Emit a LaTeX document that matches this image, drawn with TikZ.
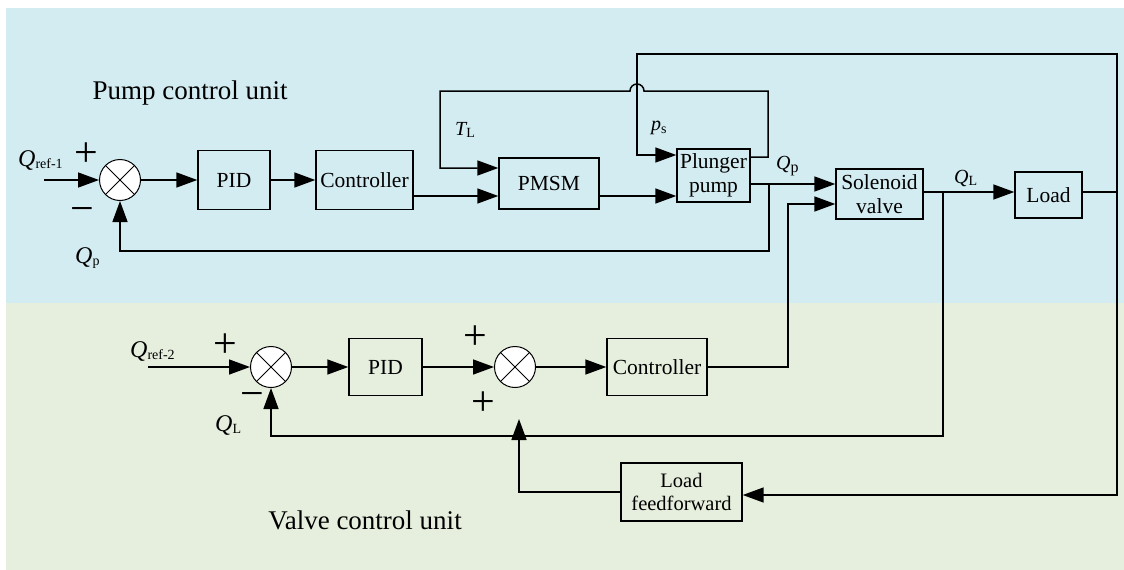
\documentclass[tikz,border=0pt]{standalone}
\usepackage{fontspec}
\setmainfont{Liberation Serif}
\usetikzlibrary{arrows.meta}
\definecolor{bgblue}{RGB}{211,236,241}
\definecolor{bggreen}{RGB}{230,239,221}
\newcommand{\symsub}[4]{{\fontsize{#3}{#3}\selectfont\itshape #1}\raisebox{-0.25em}{\fontsize{#4}{#4}\selectfont #2}}
\begin{document}
\begin{tikzpicture}[x=1pt,y=-1pt,
  box/.style={draw, line width=1.4pt, inner sep=0pt, align=center, font=\fontsize{21.5}{24}\selectfont},
  sumj/.style={circle, draw, line width=1pt, fill=white, minimum size=41pt, inner sep=0pt,
    path picture={\draw[line width=0.8pt] (path picture bounding box.north west) -- (path picture bounding box.south east)
      (path picture bounding box.north east) -- (path picture bounding box.south west);}},
  wire/.style={line width=1.5pt},
  arr/.style={wire, -{Triangle[length=21pt,width=15pt]}},
  sgn/.style={font=\fontsize{42}{42}\selectfont, inner sep=0pt},
  lbl/.style={inner sep=0pt, anchor=west},
  ttl/.style={font=\fontsize{27}{30}\selectfont, inner sep=0pt}]
\useasboundingbox (0,0) rectangle (1124,570);
\fill[bgblue] (6,8) rectangle (1124,303);
\fill[bggreen] (6,303) rectangle (1124,570);

\node[ttl] (tpump) at (190,93) {Pump control unit};
\node[ttl] (tvalve) at (365,520) {Valve control unit};

% blocks
\node[sumj] (s1) at (120,180) {};
\node[box, minimum width=72pt, minimum height=59pt] (pid1) at (234,180) {PID};
\node[box, minimum width=97pt, minimum height=59pt] (ctl1) at (364.5,180) {Controller};
\node[box, minimum width=100pt, minimum height=51pt] (pmsm) at (549,183.5) {PMSM};
\node[box, minimum width=73pt, minimum height=53pt] (pump) at (713.5,175.5) {Plunger\\pump};
\node[box, minimum width=87pt, minimum height=50pt] (valve) at (879.5,194) {Solenoid\\valve};
\node[box, minimum width=67pt, minimum height=46pt] (load) at (1048.5,195) {Load};
\node[sumj] (s2) at (271,367) {};
\node[box, minimum width=73pt, minimum height=57pt] (pid2) at (385.5,367) {PID};
\node[sumj] (s3) at (515,367) {};
\node[box, minimum width=100pt, minimum height=57pt] (ctl2) at (657,367) {Controller};
\node[box, minimum width=121pt, minimum height=58pt, font=\fontsize{20.5}{23}\selectfont] (lff) at (681.5,492) {Load\\feedforward};

% helper coordinates
\coordinate (in1) at (44,180);
\coordinate (in2) at (148,367);
\coordinate (ya196) at (0,196);
\coordinate (ya184) at (0,184);
\coordinate (ya168) at (0,168);
\coordinate (ya157) at (0,157);
\coordinate (ya155) at (0,155);
\coordinate (ya204) at (0,204);
\coordinate (ya192) at (0,192);
\coordinate (ya495) at (0,495);
\coordinate (jqp) at (769,184);
\coordinate (jql) at (943,192);
\coordinate (jld) at (1117,192);
\coordinate (ffend) at (519,419);

% connectors, pump unit
\draw[arr] (in1) -- (s1);
\draw[arr] (s1) -- (pid1);
\draw[arr] (pid1) -- (ctl1);
\draw[arr] (ctl1.east |- ya196) -- (pmsm.west |- ya196);
\draw[arr] (pmsm.east |- ya196) -- (pump.west |- ya196);
\draw[arr] (pump.east |- ya184) -- (valve.west |- ya184);
\draw[arr] (jqp) -- (769,251) -- (120,251) -- (s1);
\draw[arr] (pump.east |- ya157) -- (768,157) -- (768,91) -- (644,91)
   arc[start angle=0, end angle=180, radius=7pt] -- (440,91) -- (440,168) -- (pmsm.west |- ya168);
\draw[arr] (load.east |- ya192) -- (jld) -- (1117,54) -- (637,54) -- (637,155) -- (pump.west |- ya155);
\draw[arr] (jld) -- (1117,495) -- (lff.east |- ya495);
\draw[arr] (valve.east |- ya192) -- (load.west |- ya192);

% connectors, valve unit
\draw[arr] (jql) -- (943,436) -- (271,436) -- (s2);
\draw[arr] (ctl2.east) -- (788,367) -- (788,204) -- (valve.west |- ya204);
\draw[arr] (in2) -- (s2);
\draw[arr] (s2) -- (pid2);
\draw[arr] (pid2) -- (s3);
\draw[arr] (s3) -- (ctl2);
\draw[arr] (lff.west) -- (519,492) -- (ffend);

% signs
\node[sgn] (p1) at (86,155) {+};
\node[sgn] (m1) at (82,215) {−};
\node[sgn] (p2) at (225,346) {+};
\node[sgn] (m2) at (252,400) {−};
\node[sgn] (p3) at (475,338) {+};
\node[sgn] (p4) at (483,404) {+};

% labels
\node[lbl] (lqr1) at (18,160) {\symsub{Q}{ref-1}{24}{14}};
\node[lbl] (lqp) at (75,258) {\symsub{Q}{p}{24}{14}};
\node[lbl] (lqr2) at (130,351) {\symsub{Q}{ref-2}{24}{14}};
\node[lbl] (lql) at (215,425) {\symsub{Q}{L}{24}{14}};
\node[lbl] (ltl) at (455,130) {\symsub{T}{L}{20}{14}};
\node[lbl] (lps) at (651,128) {\symsub{p}{s}{20}{14}};
\node[lbl] (lqpt) at (776,166) {\symsub{Q}{p}{20}{16}};
\node[lbl] (lqlt) at (954,178) {\symsub{Q}{L}{20}{14}};
\end{tikzpicture}
\end{document}
